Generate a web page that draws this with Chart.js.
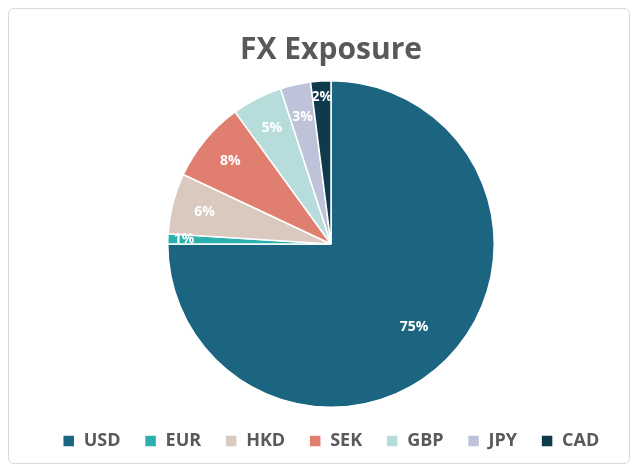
<!DOCTYPE html>
<html><head><meta charset="utf-8">
<script src="https://cdn.jsdelivr.net/npm/chart.js@4"></script>
<style>
html,body{margin:0;padding:0;background:#fff;}
#wrap{position:absolute;left:8px;top:8px;width:622px;height:456px;border:1px solid #d9d9d9;border-radius:6px;box-sizing:border-box;}
canvas{position:absolute;left:0;top:0;}
</style></head><body>
<div id="wrap"></div>
<canvas id="c" width="640" height="470"></canvas>
<script>
const categories = ["USD","EUR","HKD","SEK","GBP","JPY","CAD"];
const values = [75,1,6,8,5,3,2];
const colors = ["#1b6581","#2bb0ad","#d9c9bf","#e07f70","#b7dcdc","#bfc3d9","#0f3a4b"];

const labelPlugin = {
  id:'pctLabels',
  afterDatasetsDraw(chart){
    const ctx = chart.ctx;
    const meta = chart.getDatasetMeta(0);
    ctx.save();
    ctx.fillStyle = '#fff';
    ctx.font = 'bold 14px "Open Sans"';
    ctx.textAlign='center'; ctx.textBaseline='middle';
    meta.data.forEach((arc,i)=>{
      const a = (arc.startAngle+arc.endAngle)/2;
      const r = arc.outerRadius*(values[i]<3?0.9:(values[i]>50?0.72:0.8));
      ctx.fillText(values[i]+'%', arc.x+Math.cos(a)*r, arc.y+Math.sin(a)*r);
    });
    ctx.restore();
  }
};

new Chart(document.getElementById('c'),{
  type:'pie',
  data:{labels:categories,datasets:[{data:values,backgroundColor:colors,borderColor:'#fff',borderWidth:1.5}]},
  options:{
    responsive:false,animation:false,
    layout:{padding:{top:0,bottom:10,left:22,right:0}},
    plugins:{
      title:{display:true,text:'FX Exposure',color:'#595959',font:{family:'Open Sans',size:30,weight:'bold'},padding:{top:32,bottom:12}},
      legend:{position:'bottom',labels:{color:'#595959',font:{family:'Open Sans',size:18,weight:'bold'},boxWidth:12,boxHeight:12,padding:24}},
      tooltip:{enabled:false}
    }
  },
  plugins:[labelPlugin]
});
</script></body></html>
